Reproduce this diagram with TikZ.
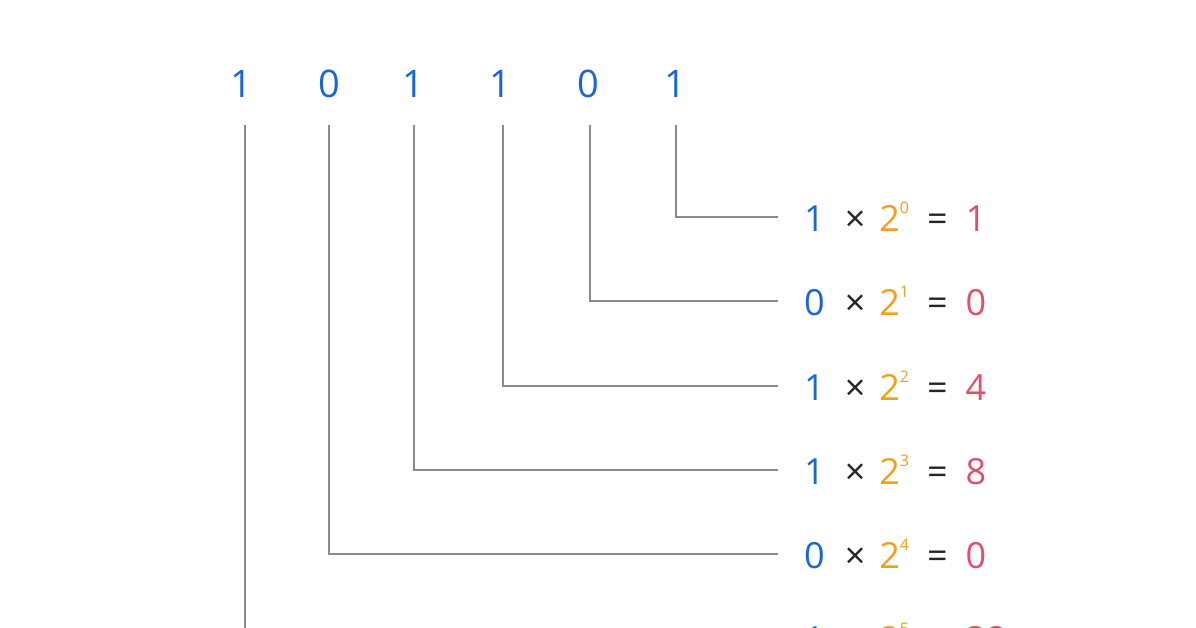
\documentclass[tikz,border=0pt]{standalone}
\usepackage{fontspec}
\setmainfont{Open Sans}
\definecolor{bblue}{HTML}{1A66D6}
\definecolor{borange}{HTML}{F0A01A}
\definecolor{bpink}{HTML}{E0506A}
\definecolor{bline}{HTML}{8A8A8A}
\begin{document}
\begin{tikzpicture}[x=1pt,y=-1pt,
  bit/.style={font=\fontsize{38}{40}\selectfont,text=bblue,inner sep=0pt},
  eq/.style={font=\fontsize{36}{40}\selectfont,anchor=west,inner sep=0pt},
  conn/.style={draw=bline,line width=2pt}]
\useasboundingbox (0,0) rectangle (1196,628);
\clip (0,0) rectangle (1196,628);
\newcommand\term[3]{\textcolor{bblue}{#1}\hspace{20pt}\textcolor{black!85}{×}\hspace{14pt}\textcolor{borange}{2\raisebox{0.5em}{\fontsize{16}{18}\selectfont #2}}\hspace{18pt}\textcolor{black!85}{=}\hspace{18pt}\textcolor{bpink}{#3}}
\foreach \b/\x/\n [count=\i] in {1/241/b5,0/329/b4,1/413/b3,1/500/b2,0/588/b1,1/675/b0}{
  \node[bit] (\n) at (\x,84) {\b};
}
\foreach \n/\x/\y/\d/\p/\r in {b0/676/217/1/0/1, b1/590/301/0/1/0, b2/503/386/1/2/4, b3/414/470/1/3/8, b4/329/554/0/4/0, b5/245/638/1/5/32}{
  \coordinate (t\n) at (\x,125);
  \coordinate (c\n) at (\x,\y);
  \coordinate (e\n) at (778,\y);
  \node[eq] (q\n) at (804,\y) {\term{\d}{\p}{\r}};
  \draw[conn] (t\n) -- (c\n) -- (e\n);
}
\end{tikzpicture}
\end{document}
